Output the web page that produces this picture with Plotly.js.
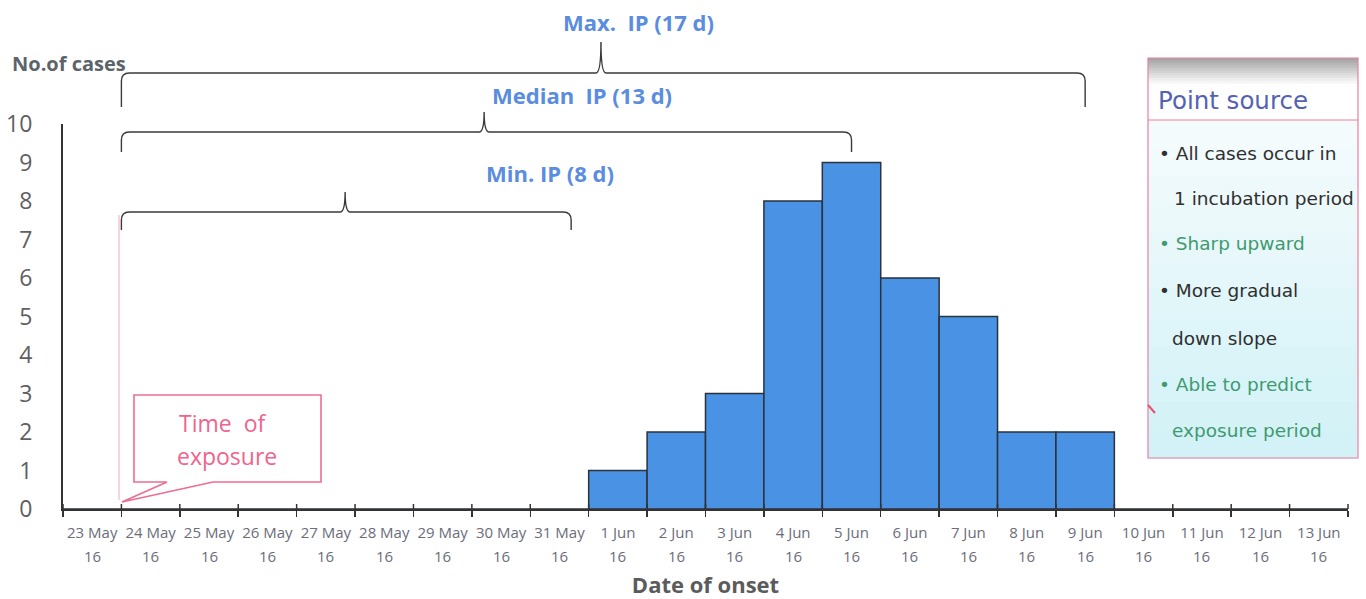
<!DOCTYPE html>
<html><head><meta charset="utf-8">
<script src="https://cdn.plot.ly/plotly-3.0.1.min.js"></script>
<style>body{margin:0;background:#fff}#chart{width:1366px;height:599px}</style>
</head><body><div id="chart"></div>
<script>
// ---- data ----
const categories = ['23 May 16','24 May 16','25 May 16','26 May 16','27 May 16','28 May 16','29 May 16','30 May 16','31 May 16',
  '1 Jun 16','2 Jun 16','3 Jun 16','4 Jun 16','5 Jun 16','6 Jun 16','7 Jun 16','8 Jun 16','9 Jun 16','10 Jun 16','11 Jun 16','12 Jun 16','13 Jun 16'];
const tickDates = ['23 May','24 May','25 May','26 May','27 May','28 May','29 May','30 May','31 May',
  '1 Jun','2 Jun','3 Jun','4 Jun','5 Jun','6 Jun','7 Jun','8 Jun','9 Jun','10 Jun','11 Jun','12 Jun','13 Jun'];
const tickYears = ['16','16','16','16','16','16','16','16','16','16','16','16','16','16','16','16','16','16','16','16','16','16'];
const cases = [0,0,0,0,0,0,0,0,0,1,2,3,8,9,6,5,2,2,0,0,0,0];
const yTicks = [0,1,2,3,4,5,6,7,8,9,10];

const ipLabels = ['Max.\u00a0 IP (17 d)', 'Median\u00a0 IP (13 d)', 'Min. IP (8 d)'];
const ipDays = [17, 13, 8];
const exposureIndex = 0.5;               // between 23 May and 24 May (category index units)
const bracketEndDrawn = [17.0, 13.0, 8.2]; // where the drawn braces end (category index units)
const bracketPeak = [8.71, 6.71, 4.33];
const ipLabelPos = [9.35, 8.39, 7.84];

const boxTitle = 'Point source';
const boxLines = ['• All cases occur in', '1 incubation period', '• Sharp upward', '• More gradual', 'down slope', '• Able to predict', 'exposure period'];
const boxColors = ['#2f2f2f','#2f2f2f','#3f9a6f','#2f2f2f','#2f2f2f','#3f9a6f','#3f9a6f'];
const boxIndent = [1157, 1172, 1157, 1157, 1170, 1157, 1170];
const boxLineY = [153, 198, 243, 290, 338, 384, 430];

// ---- geometry helpers (layout pixels -> paper) ----
const W = 1366, H = 599, ML = 63, MR = 18, MT = 124, MB = 90;
const PW = W - ML - MR, PH = H - MT - MB;
const px = p => (p - ML) / PW;
const py = p => (H - MB - p) / PH;
const ix = i => (i + 0.5) / categories.length;   // category index -> paper x
const ixPix = i => ML + ix(i) * PW;

const FONT = '"Open Sans", Lato, sans-serif';
const BOXFONT = '"DejaVu Sans", "Liberation Sans", Arial, sans-serif';
const shapes = [];
const annotations = [];

// inner half of x ticks (crossing ticks)
for (let b = 0; b <= categories.length; b++) {
  shapes.push({type:'line', xref:'paper', yref:'paper', x0:b/categories.length, x1:b/categories.length,
    y0:0, y1:5/PH, line:{color:'#333', width:1.5}});
}

// brackets
const bracketY = [[73, 107, 42], [132, 152, 112], [212, 230, 192]];
function bracketPath(i0, i1, ip, yLine, yEnd, yTip) {
  const x0 = ixPix(i0), x1 = ixPix(i1), xp = ixPix(ip), r = 8, s = 5;
  const P = (x, y) => `${px(x).toFixed(5)},${py(y).toFixed(5)}`;
  return `M ${P(x0, yEnd)} L ${P(x0, yLine + r)} Q ${P(x0, yLine)} ${P(x0 + r, yLine)} L ${P(xp - s, yLine)} ` +
    `Q ${P(xp, yLine)} ${P(xp, yTip)} Q ${P(xp, yLine)} ${P(xp + s, yLine)} L ${P(x1 - r, yLine)} ` +
    `Q ${P(x1, yLine)} ${P(x1, yLine + r)} L ${P(x1, yEnd)}`;
}
ipDays.forEach((d, k) => {
  shapes.push({type:'path', xref:'paper', yref:'paper',
    path: bracketPath(exposureIndex, bracketEndDrawn[k], bracketPeak[k], ...bracketY[k]),
    line:{color:'#3a3a3a', width:1.4}});
});
const ipTextY = [22, 95, 173];
ipLabels.forEach((t, k) => {
  annotations.push({xref:'paper', yref:'paper', x: ix(ipLabelPos[k]), y: py(ipTextY[k]), text: '<b>' + t + '</b>',
    showarrow:false, xanchor:'center', yanchor:'middle', font:{family:FONT, size:22, color:'#5a8de0'}});
});

// time of exposure marker + callout
shapes.push({type:'line', xref:'paper', yref:'paper', x0:px(119), x1:px(119), y0:py(215), y1:py(500),
  line:{color:'#f4a6bd', width:1}});
shapes.push({type:'path', xref:'paper', yref:'paper',
  path: `M ${px(134)},${py(395)} L ${px(321)},${py(395)} L ${px(321)},${py(482)} L ${px(213)},${py(482)} L ${px(122)},${py(502)} L ${px(167)},${py(482)} L ${px(134)},${py(482)} Z`,
  fillcolor:'#ffffff', line:{color:'#ee6d92', width:1.6}});
annotations.push({xref:'paper', yref:'paper', x:px(222), y:py(423), text:'Time\u00a0 of', showarrow:false,
  font:{family:FONT, size:23, color:'#f0648c'}, xanchor:'center', yanchor:'middle'});
annotations.push({xref:'paper', yref:'paper', x:px(227), y:py(456), text:'exposure', showarrow:false,
  font:{family:FONT, size:23, color:'#f0648c'}, xanchor:'center', yanchor:'middle'});

// right info box
const bx0 = 1148, bx1 = 1358, by0 = 58, bySep = 120, by1 = 458;
shapes.push({type:'rect', xref:'paper', yref:'paper', x0:px(bx0), x1:px(bx1), y0:py(by0), y1:py(bySep),
  fillcolor:'#ffffff', line:{width:0}});
const hdrSteps = 10;
for (let k = 0; k < hdrSteps; k++) {
  const t = k / hdrSteps;
  const g = Math.round(165 + (255 - 165) * t);
  shapes.push({type:'rect', xref:'paper', yref:'paper', x0:px(bx0), x1:px(bx1), y0:py(by0 + k*2.5), y1:py(by0 + k*2.5 + 3.2),
    fillcolor:`rgb(${g},${g},${g})`, line:{width:0}});
}
const bodySteps = 12;
for (let k = 0; k < bodySteps; k++) {
  const t = k / (bodySteps - 1);
  const r = Math.round(244 - 34 * t), g = Math.round(251 - 9 * t), b = Math.round(252 - 5 * t);
  const h = (by1 - bySep) / bodySteps;
  shapes.push({type:'rect', xref:'paper', yref:'paper', x0:px(bx0), x1:px(bx1), y0:py(bySep + k*h), y1:py(bySep + (k+1)*h + 0.8),
    fillcolor:`rgb(${r},${g},${b})`, line:{width:0}});
}
shapes.push({type:'rect', xref:'paper', yref:'paper', x0:px(bx0), x1:px(bx1), y0:py(by0), y1:py(by1),
  fillcolor:'rgba(0,0,0,0)', line:{color:'#e9809f', width:1.2}});
shapes.push({type:'line', xref:'paper', yref:'paper', x0:px(bx0), x1:px(bx1), y0:py(bySep), y1:py(bySep),
  line:{color:'#e9809f', width:1}});
shapes.push({type:'line', xref:'paper', yref:'paper', x0:px(1148), x1:px(1155), y0:py(405), y1:py(413),
  line:{color:'#e8507a', width:2}});
annotations.push({xref:'paper', yref:'paper', x:px(1156), y:py(100), text:boxTitle, showarrow:false,
  xanchor:'left', yanchor:'middle', font:{family:BOXFONT, size:24.5, color:'#5562b2'}});
boxLines.forEach((t, k) => {
  annotations.push({xref:'paper', yref:'paper', x:px(boxIndent[k]), y:py(boxLineY[k]), text:t, showarrow:false,
    xanchor:'left', yanchor:'middle', font:{family:BOXFONT, size:18.5, color:boxColors[k]}});
});

// y axis caption
annotations.push({xref:'paper', yref:'paper', x:px(10), y:py(64), text:'<b>No.of cases</b>', showarrow:false,
  xanchor:'left', yanchor:'middle', font:{family:FONT, size:20, color:'#5d636a'}});

// second line of x tick labels (year)
categories.forEach((c, i) => {
  annotations.push({xref:'x', yref:'paper', x:c, y:py(556), text:tickYears[i], showarrow:false,
    xanchor:'center', yanchor:'middle', font:{family:FONT, size:15, color:'#6c6c7a'}});
});

const trace = {
  type:'bar', x:categories, y:cases,
  marker:{color:'#4a93e4', line:{color:'#2b323b', width:1.5}},
  width:1, hoverinfo:'x+y'
};

const layout = {
  width:W, height:H,
  margin:{l:ML, r:MR, t:MT, b:MB, autoexpand:false},
  paper_bgcolor:'#ffffff', plot_bgcolor:'#ffffff',
  showlegend:false, bargap:0,
  xaxis:{type:'category', range:[-0.5, categories.length - 0.5], tickmode:'array', tickvals:categories,
    ticktext: tickDates, tickangle:0,
    tickson:'boundaries', ticks:'outside', ticklen:6, tickwidth:1.5, tickcolor:'#333',
    showline:true, linecolor:'#333', linewidth:2, showgrid:false, zeroline:false,
    tickfont:{family:FONT, size:15, color:'#6c6c7a'}, ticklabelstandoff:9, automargin:false,
    title:{text:'<b>Date of onset</b>', font:{family:FONT, size:22, color:'#5b5b5b'}, standoff:41}},
  yaxis:{range:[0,10], tickmode:'array', tickvals:yTicks, ticks:'', showline:true, linecolor:'#333', linewidth:2,
    showgrid:false, zeroline:false, tickfont:{family:FONT, size:23, color:'#5f5f5f'}, ticklabelstandoff:24, automargin:false},
  shapes:shapes, annotations:annotations
};

Plotly.newPlot('chart', [trace], layout, {displayModeBar:false, staticPlot:true});
</script>
</body></html>
